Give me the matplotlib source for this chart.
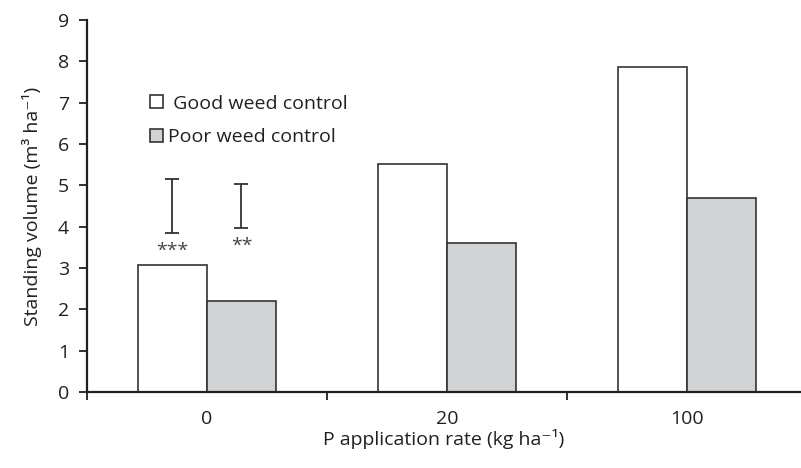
import matplotlib.pyplot as plt
import numpy as np
from matplotlib.ticker import FixedLocator, NullFormatter

plt.rcParams['font.family'] = ['Open Sans', 'DejaVu Sans']

# P rates and standing volumes (m3/ha)
p_rates = ['0', '20', '100']
good_control = [3.07, 5.52, 7.87]
poor_control = [2.20, 3.61, 4.69]

# significance bars for the 0 kg/ha group
err_low = [3.85, 3.97]
err_high = [5.15, 5.03]
err_stars = ['***', '**']

edge = '#333333'
grey = '#d1d2d4'

fig = plt.figure(figsize=(8.01, 4.68), dpi=100)
ax = fig.add_axes([0.1086, 0.1624, 0.8914, 0.7949])

x = np.arange(len(p_rates))
w = 0.2875
b1 = ax.bar(x - w / 2, good_control, w, color='white', edgecolor=edge, linewidth=1.2,
            label=' Good weed control')
b2 = ax.bar(x + w / 2, poor_control, w, color=grey, edgecolor=edge, linewidth=1.2,
            label='Poor weed control')

# error bars sit over the two bars at P = 0
ex = [x[0] - w / 2, x[0] + w / 2]
lo = np.array(err_low)
hi = np.array(err_high)
mid = (lo + hi) / 2
ax.errorbar(ex, mid, yerr=(hi - lo) / 2, fmt='none', ecolor=edge, elinewidth=1.3,
            capsize=5, capthick=1.3)
for xi, l, s in zip(ex, lo, err_stars):
    ax.text(xi, l - 0.22, s, ha='center', va='top', fontsize=14, color='#444444')

ax.set_xlim(-0.5, 2.475)
ax.set_ylim(0, 9)
ax.set_yticks(range(10))

# ticks at group boundaries, labels at group centres
ax.xaxis.set_major_locator(FixedLocator([-0.5, 0.5, 1.5, 2.5]))
ax.xaxis.set_major_formatter(NullFormatter())
ax.xaxis.set_minor_locator(FixedLocator(x))
ax.set_xticklabels(p_rates, minor=True)
ax.tick_params(axis='x', which='major', direction='out', length=6, width=1.3, color='#231f20')
ax.tick_params(axis='x', which='minor', length=0, pad=13, labelsize=14, labelcolor='#231f20')
ax.tick_params(axis='y', direction='out', length=6, width=1.3, color='#231f20',
               labelsize=14, labelcolor='#231f20', pad=7)

for s in ['top', 'right']:
    ax.spines[s].set_visible(False)
for s in ['left', 'bottom']:
    ax.spines[s].set_linewidth(1.6)
    ax.spines[s].set_color('#231f20')

ax.set_xlabel('P application rate (kg ha\u207b\u00b9)', fontsize=14, color='#231f20', labelpad=1)
ax.set_ylabel('Standing volume (m\u00b3 ha\u207b\u00b9)', fontsize=14, color='#231f20', labelpad=11)

ax.legend(handles=[b1, b2], loc='upper left', bbox_to_anchor=(0.078, 0.82), frameon=False,
          fontsize=14, handlelength=0.65, handleheight=0.65, handletextpad=0.25,
          labelspacing=0.8, labelcolor='#231f20', borderaxespad=0)

fig.savefig('out.png', dpi=100)
